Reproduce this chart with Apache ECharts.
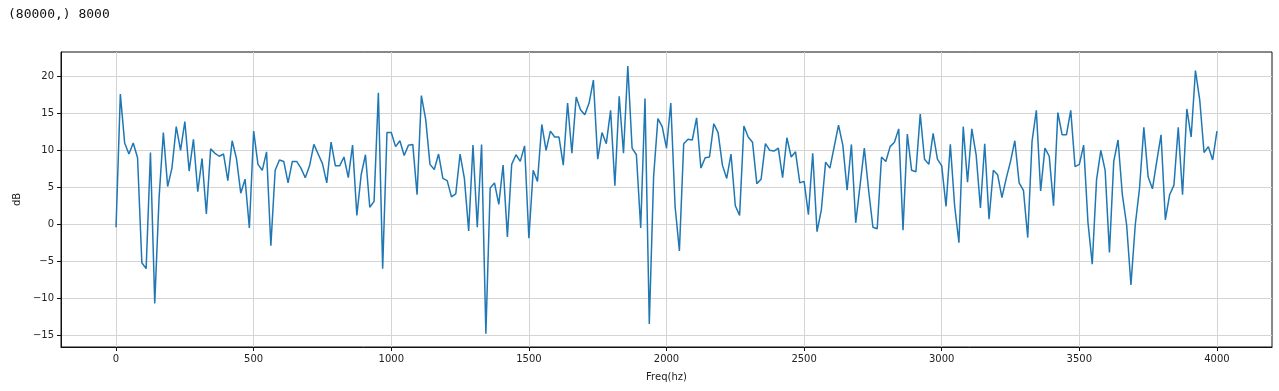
<!DOCTYPE html>
<html>
<head>
<meta charset="utf-8">
<script src="https://cdn.jsdelivr.net/npm/echarts@6/dist/echarts.min.js"></script>
<style>
  html, body { margin: 0; padding: 0; background: #fff; }
  #main { width: 1279px; height: 391px; }
</style>
</head>
<body>
<div id="main"></div>
<script>
// spectrum in dB, 257 bins from 0 to 4000 Hz (fs 8000, 512 point fft)
const db = [
  -0.4, 17.6, 11.0, 9.5, 11.0, 9.0, -5.2, -6.0, 9.7, -10.7,
  3.5, 12.4, 5.1, 7.6, 13.2, 10.0, 13.9, 7.2, 11.5, 4.4,
  8.9, 1.4, 10.2, 9.6, 9.2, 9.5, 5.9, 11.3, 8.9, 4.2,
  6.1, -0.5, 12.6, 8.1, 7.3, 9.8, -2.9, 7.3, 8.7, 8.5,
  5.6, 8.5, 8.5, 7.6, 6.3, 7.9, 10.8, 9.5, 8.2, 5.6,
  11.1, 7.9, 7.9, 9.1, 6.3, 10.7, 1.2, 6.7, 9.4, 2.3,
  3.1, 17.8, -6.0, 12.4, 12.4, 10.5, 11.3, 9.3, 10.7, 10.8,
  4.0, 17.4, 14.2, 8.1, 7.4, 9.5, 6.2, 5.9, 3.7, 4.1,
  9.5, 6.2, -0.9, 10.7, -0.4, 10.8, -14.8, 4.9, 5.6, 2.7,
  8.0, -1.7, 8.1, 9.4, 8.5, 10.6, -1.9, 7.3, 5.8, 13.5,
  10.0, 12.6, 11.8, 11.8, 8.0, 16.4, 9.6, 17.2, 15.5, 14.8,
  16.4, 19.5, 8.8, 12.4, 10.9, 15.4, 5.2, 17.3, 9.6, 21.4,
  10.3, 9.4, -0.5, 17.0, -13.5, 6.4, 14.3, 13.2, 10.3, 16.4,
  2.4, -3.6, 10.9, 11.5, 11.4, 14.4, 7.6, 9.0, 9.1, 13.6,
  12.4, 8.0, 6.2, 9.5, 2.5, 1.2, 13.3, 11.8, 11.1, 5.5,
  6.1, 10.9, 10.0, 9.9, 10.3, 6.3, 11.7, 9.1, 9.8, 5.6,
  5.8, 1.3, 9.6, -1.0, 1.9, 8.4, 7.6, 10.5, 13.4, 10.7,
  4.6, 10.8, 0.2, 5.2, 10.3, 4.6, -0.4, -0.6, 9.1, 8.5,
  10.5, 11.1, 12.9, -0.8, 12.2, 7.3, 7.1, 14.9, 8.8, 8.1,
  12.3, 8.8, 7.9, 2.4, 10.8, 2.5, -2.5, 13.2, 5.7, 12.9,
  9.4, 2.2, 10.9, 0.7, 7.3, 6.7, 3.6, 6.2, 8.5, 11.3,
  5.6, 4.6, -1.8, 11.2, 15.4, 4.5, 10.3, 9.2, 2.5, 15.1,
  12.1, 12.1, 15.4, 7.8, 8.1, 10.7, 0.3, -5.4, 6.0, 10.0,
  7.3, -3.8, 8.5, 11.4, 4.0, -0.1, -8.2, -0.1, 4.9, 13.1,
  6.4, 4.8, 8.5, 12.1, 0.6, 4.0, 5.3, 13.1, 4.0, 15.6,
  11.8, 20.8, 16.8, 9.7, 10.5, 8.7, 12.6
];
// bin frequencies
const freqs = db.map((_, i) => i * 8000 / 512);
const xTicks = [0, 500, 1000, 1500, 2000, 2500, 3000, 3500, 4000];
const yTicks = [-15, -10, -5, 0, 5, 10, 15, 20];

const chart = echarts.init(document.getElementById('main'));

const axisText = { color: '#222', fontSize: 10, fontFamily: 'DejaVu Sans' };

const option = {
  animation: false,
  backgroundColor: '#fff',
  graphic: [{
    type: 'text',
    left: 8,
    top: 8,
    style: {
      text: '(80000,) 8000',
      font: '13px "DejaVu Sans Mono"',
      fill: '#111'
    }
  }],
  grid: {
    left: 61, right: 7, top: 52, bottom: 44,
    show: true,
    borderColor: '#111',
    borderWidth: 1
  },
  xAxis: {
    type: 'value',
    min: -200, max: 4200,
    name: 'Freq(hz)',
    nameLocation: 'middle',
    nameGap: 25,
    nameTextStyle: axisText,
    axisLine: { show: true, onZero: false, lineStyle: { color: '#111', width: 1 } },
    axisTick: { show: true, inside: false, length: 4, customValues: xTicks, lineStyle: { color: '#111', width: 1 } },
    axisLabel: { customValues: xTicks, margin: 7, formatter: v => String(v), ...axisText },
    splitLine: { show: true, lineStyle: { color: '#d4d4d4', width: 1 } }
  },
  yAxis: {
    type: 'value',
    min: -16.6, max: 23.3,
    name: 'dB',
    nameLocation: 'middle',
    nameGap: 34,
    nameRotate: 90,
    nameTextStyle: axisText,
    axisLine: { show: true, onZero: false, lineStyle: { color: '#111', width: 1 } },
    axisTick: { show: true, inside: false, length: 4, customValues: yTicks, lineStyle: { color: '#111', width: 1 } },
    axisLabel: { customValues: yTicks, margin: 7, formatter: v => (v < 0 ? '\u2212' + Math.abs(v) : String(v)), ...axisText },
    splitLine: { show: true, lineStyle: { color: '#d4d4d4', width: 1 } }
  },
  series: [{
    type: 'line',
    data: freqs.map((f, i) => [f, db[i]]),
    showSymbol: false,
    lineStyle: { color: '#1f77b4', width: 1.5 },
    z: 3
  }]
};

chart.setOption(option);
</script>
</body>
</html>
